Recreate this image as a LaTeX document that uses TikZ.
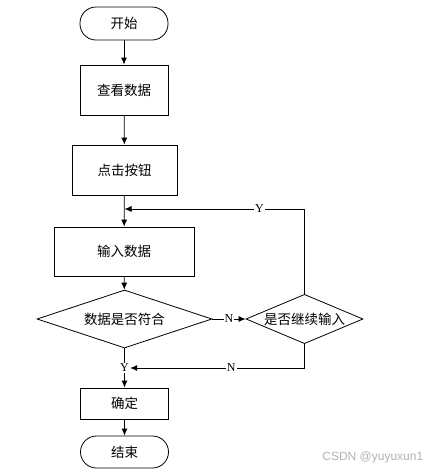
\documentclass[tikz,border=0pt]{standalone}
\usepackage{fontspec}
\setmainfont{Liberation Serif}
\setsansfont{Liberation Sans}
\newfontfamily\cjk{Noto Sans CJK SC}
\usetikzlibrary{shapes.geometric,arrows.meta}

\begin{document}
\begin{tikzpicture}[x=1pt, y=-1pt, line width=0.8pt,
    every node/.style={font=\cjk\fontsize{13.5}{15}\selectfont},
    terminal/.style={draw, rectangle, rounded corners=16pt, minimum width=88pt, minimum height=33pt},
    process/.style={draw, rectangle, minimum width=88pt, minimum height=50pt},
    decision/.style={draw, diamond, inner sep=0pt, aspect=2.2},
    yn/.style={font=\fontsize{12}{12}\selectfont, fill=white, inner sep=1pt},
    line/.style={draw, -{Latex[length=7pt,width=6pt]}}]

  \useasboundingbox (0,0) rectangle (438,475);

  \node[terminal] (start) at (124,23.5) {开始};
  \node[process] (view) at (124,90) {查看数据};
  \node[process, minimum width=105pt] (click) at (124.5,170) {点击按钮};
  \node[process, minimum width=140pt, minimum height=49pt] (input) at (124,251.5) {输入数据};
  \node[decision, minimum width=175pt, minimum height=58pt] (check) at (124.5,319) {数据是否符合};
  \node[decision, minimum width=117pt, minimum height=48pt] (again) at (304.5,319) {是否继续输入};
  \node[process, minimum height=31pt] (ok) at (124.5,403.5) {确定};
  \node[terminal, minimum height=32pt] (end) at (124.5,452) {结束};
  \coordinate (loopin) at (124.5,209);

  % main flow
  \draw[line] (start) -- (view);
  \draw[line] (view) -- (click);
  \draw[line] (click) -- (input);
  \draw[line] (input) -- (check);
  \draw[line] (check) -- node[yn] (yes1) {Y} (ok);
  \draw[line] (ok) -- (end);

  % loop back
  \draw[line] (check) -- node[yn] (no1) {N} (again);
  \draw[line] (again.north) |- node[yn, pos=0.625] (yes2) {Y} (loopin);
  \draw[line] (again.south) |- node[yn, pos=0.71] (no2) {N} (yes1.east);

  \node[font=\sffamily\fontsize{12}{12}\selectfont, text=gray!60, anchor=east] (mark) at (427,457) {CSDN @yuyuxun1};
\end{tikzpicture}
\end{document}
